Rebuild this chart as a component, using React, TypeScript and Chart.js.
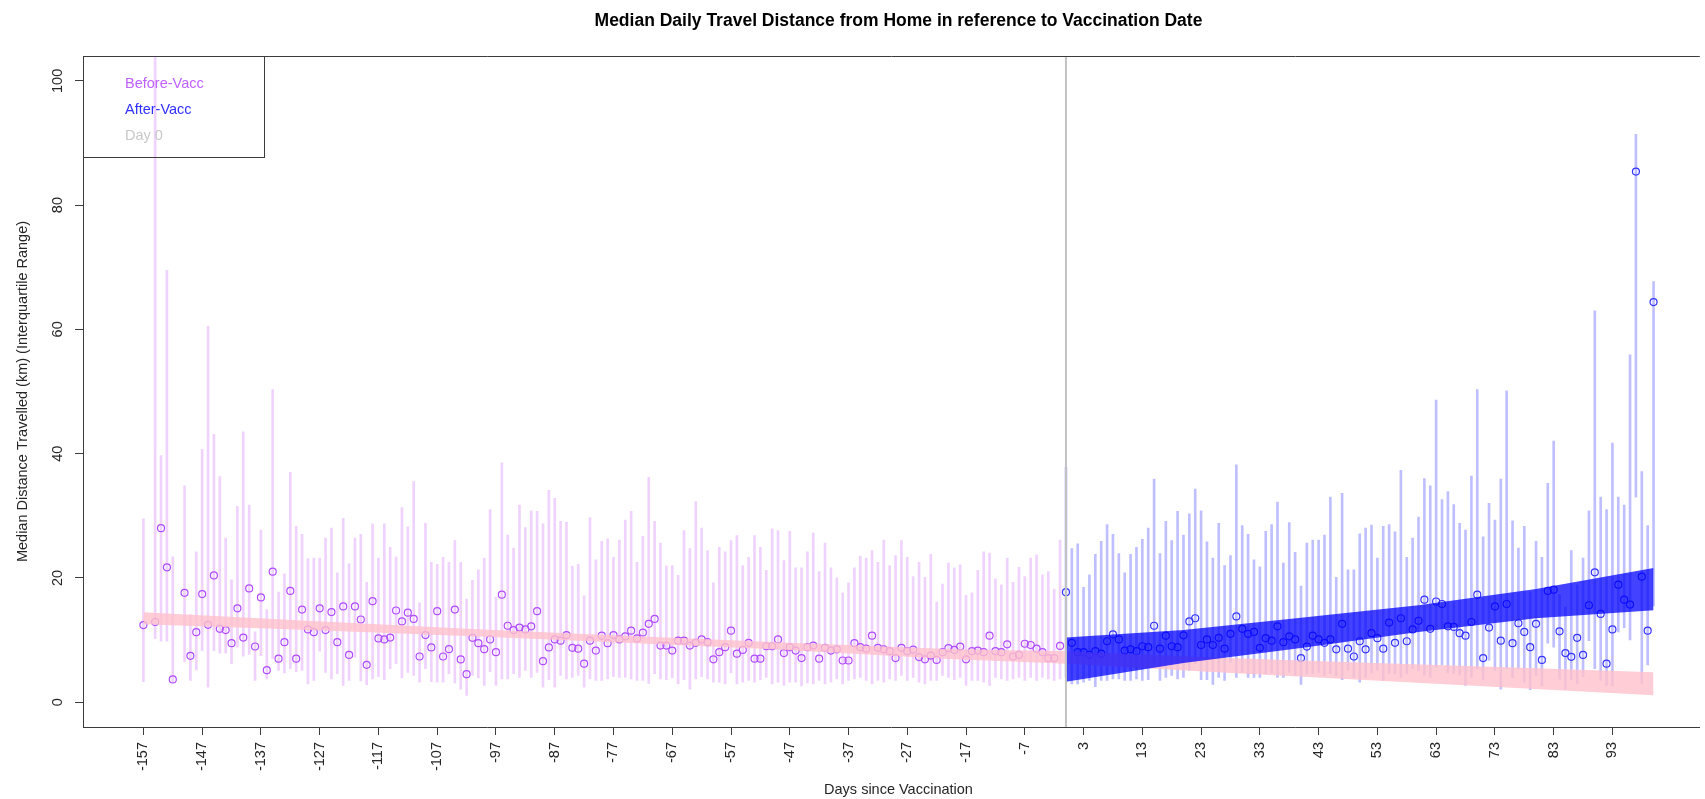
import React, { useEffect, useRef } from 'react';
import { Chart, registerables } from 'chart.js';

Chart.register(...registerables);

// ---------------- DATA ----------------
const beforeDays = [
  -157, -155, -154, -153, -152,
  -150, -149, -148, -147, -146, -145, -144, -143, -142, -141,
  -140, -139, -138, -137, -136, -135, -134, -133, -132, -131,
  -130, -129, -128, -127, -126, -125, -124, -123, -122, -121,
  -120, -119, -118, -117, -116, -115, -114, -113, -112, -111,
  -110, -109, -108, -107, -106, -105, -104, -103, -102, -101,
  -100, -99, -98, -97, -96, -95, -94, -93, -92, -91,
  -90, -89, -88, -87, -86, -85, -84, -83, -82, -81,
  -80, -79, -78, -77, -76, -75, -74, -73, -72, -71,
  -70, -69, -68, -67, -66, -65, -64, -63, -62, -61,
  -60, -59, -58, -57, -56, -55, -54, -53, -52, -51,
  -50, -49, -48, -47, -46, -45, -44, -43, -42, -41,
  -40, -39, -38, -37, -36, -35, -34, -33, -32, -31,
  -30, -29, -28, -27, -26, -25, -24, -23, -22, -21,
  -20, -19, -18, -17, -16, -15, -14, -13, -12, -11,
  -10, -9, -8, -7, -6, -5, -4, -3, -2, -1,
];
const beforeMedian = [
  12.4, 12.9, 28.0, 21.7, 3.65,
  17.6, 7.46, 11.27, 17.4, 12.45, 20.4, 11.8, 11.6, 9.5, 15.1,
  10.4, 18.3, 8.96, 16.85, 5.15, 21.0, 7.0, 9.66, 17.9, 7.0,
  14.9, 11.7, 11.27, 15.1, 11.6, 14.5, 9.66, 15.4, 7.6, 15.4,
  13.3, 6.0, 16.25, 10.25, 10.1, 10.4, 14.75, 13.0, 14.4, 13.4,
  7.35, 10.8, 8.8, 14.65, 7.35, 8.53, 14.9, 6.87, 4.5, 10.35,
  9.5, 8.53, 10.1, 8.05, 17.3, 12.3, 11.6, 12.0, 11.7, 12.2,
  14.65, 6.6, 8.8, 10.1, 9.9, 10.8, 8.75, 8.6, 6.2, 9.9,
  8.3, 10.7, 9.5, 10.8, 10.1, 10.6, 11.5, 10.25, 11.2, 12.6,
  13.4, 9.1, 9.1, 8.3, 9.9, 9.9, 9.1, 9.55, 10.1, 9.65,
  6.9, 8.05, 8.85, 11.5, 7.8, 8.4, 9.55, 7.0, 7.0, 9.0,
  9.0, 10.1, 7.9, 8.85, 8.3, 7.1, 8.85, 9.1, 7.0, 8.75,
  8.3, 8.5, 6.7, 6.7, 9.5, 8.85, 8.6, 10.7, 8.75, 8.5,
  8.2, 7.1, 8.75, 8.2, 8.45, 7.25, 6.9, 7.5, 6.8, 8.05,
  8.7, 8.4, 8.95, 6.9, 8.2, 8.3, 8.05, 10.7, 8.2, 8.05,
  9.3, 7.35, 7.6, 9.4, 9.2, 8.6, 8.05, 7.1, 7.1, 9.05,
];
const beforeQ1 = [
  3.3, 10.2, 9.8, 9.8, 3.3,
  6.5, 3.5, 5.2, 8.3, 2.4, 8.3, 7.9, 7.9, 6.2, 8.85,
  7.4, 7.7, 3.5, 7.5, 3.75, 7.0, 5.1, 4.7, 5.4, 4.9,
  5.1, 2.95, 3.5, 8.2, 4.8, 3.75, 4.6, 2.7, 3.5, 7.2,
  3.4, 2.8, 3.75, 4.1, 3.6, 5.4, 6.2, 3.9, 4.8, 4.3,
  3.2, 5.4, 3.3, 3.2, 3.2, 4.6, 3.1, 2.1, 1.1, 4.3,
  3.9, 2.7, 4.9, 2.7, 3.75, 3.75, 4.6, 4.0, 5.1, 4.0,
  4.8, 2.4, 3.6, 2.4, 4.3, 3.75, 4.0, 4.3, 2.4, 3.75,
  3.5, 3.5, 3.75, 4.1, 4.0, 4.0, 3.75, 3.5, 3.5, 3.0,
  4.6, 3.75, 3.6, 3.9, 2.95, 3.6, 2.1, 3.75, 4.1, 3.75,
  3.2, 3.2, 2.95, 4.7, 2.95, 3.2, 3.5, 3.2, 3.6, 4.0,
  2.95, 3.2, 2.7, 3.2, 3.2, 2.6, 3.1, 2.95, 3.5, 2.95,
  3.2, 3.75, 2.95, 3.5, 3.75, 4.0, 3.5, 2.95, 3.5, 3.2,
  3.75, 3.5, 4.3, 3.5, 4.0, 3.2, 2.95, 3.5, 3.5, 4.3,
  4.0, 3.6, 4.0, 2.7, 3.5, 3.5, 3.2, 2.7, 4.0, 3.75,
  3.5, 3.75, 4.0, 3.5, 4.0, 3.5, 4.0, 3.75, 3.5, 3.75,
];
const beforeQ3 = [
  29.5, 110, 39.7, 69.5, 23.4,
  34.8, 14.1, 24.2, 40.7, 60.5, 43.1, 36.3, 26.4, 19.7, 31.5,
  43.5, 31.7, 11.3, 27.7, 14.9, 50.3, 17.7, 20.65, 37.0, 28.3,
  27.0, 23.1, 23.2, 23.2, 26.4, 28.0, 20.8, 29.6, 22.3, 26.4,
  27.0, 19.3, 28.7, 23.2, 28.7, 24.9, 23.4, 31.3, 28.2, 35.5,
  16.0, 28.8, 22.5, 22.2, 23.3, 22.5, 26.0, 22.5, 16.6, 19.6,
  21.3, 23.2, 31.0, 16.9, 38.5, 26.9, 24.8, 31.7, 28.1, 30.8,
  30.7, 28.7, 34.1, 32.8, 29.1, 29.0, 21.9, 22.2, 17.1, 29.7,
  22.9, 25.9, 26.3, 23.3, 26.1, 29.3, 30.7, 22.5, 26.7, 36.2,
  29.1, 25.6, 21.9, 22.0, 20.4, 27.6, 24.7, 32.3, 28.0, 24.4,
  19.2, 24.9, 24.2, 26.0, 26.8, 22.0, 23.3, 26.8, 24.9, 21.2,
  27.9, 27.6, 22.8, 27.5, 21.6, 21.6, 24.2, 27.2, 21.0, 25.6,
  21.6, 20.0, 17.6, 19.2, 21.6, 23.5, 23.2, 24.4, 22.5, 26.1,
  22.0, 23.6, 26.0, 23.3, 20.2, 22.5, 20.1, 23.8, 16.1, 19.0,
  22.4, 21.6, 22.1, 17.2, 17.6, 21.2, 24.2, 24.0, 19.85, 18.9,
  23.2, 19.3, 21.7, 20.2, 23.2, 23.7, 20.5, 21.0, 18.2, 26.1,
];

const afterDays = [
  0, 1, 2, 3, 4, 5, 6, 7, 8, 9,
  10, 11, 12, 13, 14, 15, 16, 17, 18, 19,
  20, 21, 22, 23, 24, 25, 26, 27, 28, 29,
  30, 31, 32, 33, 34, 35, 36, 37, 38, 39,
  40, 41, 42, 43, 44, 45, 46, 47, 48, 49,
  50, 51, 52, 53, 54, 55, 56, 57, 58, 59,
  60, 61, 62, 63, 64, 65, 66, 67, 68, 69,
  70, 71, 72, 73, 74, 75, 76, 77, 78, 79,
  80, 81, 82, 83, 84, 85, 86, 87, 88, 89,
  90, 91, 92, 93, 94, 95, 96, 97, 98, 99,
  100,
];
const afterMedian = [
  17.7, 9.55, 8.05, 8.05, 7.6, 8.2, 7.8, 9.8, 10.9, 10.1,
  8.3, 8.5, 8.2, 9.0, 8.85, 12.3, 8.6, 10.7, 9.0, 8.85,
  10.75, 13.0, 13.5, 9.2, 10.1, 9.2, 10.35, 8.6, 11.0, 13.8,
  11.8, 11.0, 11.3, 8.75, 10.3, 9.9, 12.2, 9.65, 10.6, 10.1,
  7.1, 8.95, 10.7, 10.1, 9.55, 10.1, 8.5, 12.6, 8.6, 7.35,
  9.8, 8.5, 11.1, 10.3, 8.6, 12.8, 9.55, 13.5, 9.8, 11.7,
  13.1, 16.5, 11.8, 16.2, 15.8, 12.2, 12.1, 11.1, 10.7, 12.9,
  17.3, 7.1, 12.0, 15.4, 9.9, 15.8, 9.5, 12.7, 11.3, 8.85,
  12.6, 6.8, 17.9, 18.1, 11.4, 7.9, 7.3, 10.35, 7.6, 15.6,
  20.9, 14.2, 6.2, 11.7, 18.9, 16.5, 15.7, 85.4, 20.2, 11.5,
  64.4,
];
const afterQ1 = [
  4.0, 2.95, 2.95, 3.2, 3.5, 2.5, 3.5, 3.5, 3.75, 3.75,
  3.5, 3.5, 3.75, 3.5, 3.6, 5.6, 3.5, 4.0, 4.3, 3.75,
  4.0, 5.1, 6.2, 3.6, 3.6, 2.85, 4.0, 3.5, 6.45, 4.0,
  4.8, 4.0, 4.0, 4.0, 4.6, 4.7, 4.0, 4.0, 4.8, 4.3,
  2.85, 4.6, 4.6, 4.8, 4.3, 4.6, 4.3, 3.6, 5.1, 4.0,
  3.2, 4.0, 4.7, 5.1, 3.5, 4.6, 4.6, 4.0, 4.6, 5.4,
  5.1, 4.3, 4.0, 5.6, 6.0, 4.7, 4.6, 4.4, 2.7, 4.0,
  5.4, 3.6, 6.7, 5.1, 2.1, 5.4, 3.9, 5.4, 3.2, 2.0,
  4.3, 2.6, 9.5, 8.85, 3.7, 2.1, 3.6, 2.95, 4.1, 9.9,
  5.4, 3.5, 2.7, 2.6, 11.3, 12.0, 10.0, 33.0, 2.95, 6.0,
  15.5,
];
const afterQ3 = [
  37.8, 24.7, 25.5, 18.5, 20.5, 23.8, 25.9, 28.6, 27.0, 23.9,
  20.8, 23.8, 24.9, 26.2, 28.0, 35.9, 23.9, 29.1, 26.0, 30.7,
  26.9, 30.3, 34.3, 30.8, 25.8, 23.2, 28.8, 22.0, 23.6, 38.2,
  28.4, 27.0, 22.9, 21.8, 27.5, 28.6, 32.2, 22.4, 28.9, 24.1,
  18.7, 25.6, 26.1, 26.1, 26.9, 33.0, 20.1, 33.6, 21.3, 21.3,
  27.1, 28.0, 28.5, 23.2, 28.3, 28.6, 27.4, 37.3, 23.3, 26.4,
  29.8, 36.0, 34.8, 48.6, 32.6, 33.9, 31.8, 28.8, 27.7, 36.4,
  50.3, 26.6, 32.0, 29.3, 35.9, 50.1, 29.2, 24.8, 28.3, 17.7,
  25.9, 23.3, 35.2, 42.0, 17.3, 15.3, 24.4, 18.9, 23.2, 30.8,
  63.0, 33.0, 31.0, 41.7, 33.0, 31.7, 55.9, 91.4, 37.1, 28.4,
  67.7,
];

// Fitted trend bands (at a few vertices)
const pinkBandDays = [-157, -130, -100, -78, -50, -20, 0, 25, 50, 75, 100];
const pinkBandLower = [12.55, 11.65, 10.55, 9.7, 8.5, 6.95, 6.2, 4.85, 3.6, 2.35, 1.1];
const pinkBandUpper = [14.45, 13.15, 11.75, 10.8, 9.7, 8.55, 8.2, 7.2, 6.4, 5.6, 4.8];

const blueBandDays = [0, 20, 40, 60, 80, 100];
const blueBandLower = [3.3, 6.3, 8.7, 11.3, 13.5, 14.8];
const blueBandUpper = [10.4, 11.6, 13.6, 15.6, 18.2, 21.6];

const dayZero = 0;

const xTickValues = [
  -157, -147, -137, -127, -117, -107, -97, -87, -77, -67, -57, -47, -37, -27, -17, -7,
  3, 13, 23, 33, 43, 53, 63, 73, 83, 93,
];
const yTickValues = [0, 20, 40, 60, 80, 100];

const titleText = 'Median Daily Travel Distance from Home in reference to Vaccination Date';
const xTitle = 'Days since Vaccination';
const yTitle = 'Median Distance Travelled (km) (Interquartile Range)';
const legendLabels = ['Before-Vacc', 'After-Vacc', 'Day 0'];

// ---------------- STYLE ----------------
const FONT = '"Liberation Sans", Arial, Helvetica, sans-serif';
const TEXT = '#262626';
const FRAME = '#3c3c3c';
const BEFORE_PT = '#B04CFF';
const BEFORE_BAR = 'rgba(191,62,255,0.23)';
const AFTER_PT = '#3434FF';
const AFTER_BAR = 'rgba(0,0,255,0.25)';
const PINK = 'rgba(255,192,203,0.8)';
const BLUE = 'rgba(0,0,255,0.74)';
const GREY = '#C2C2C2';
const LEGEND_COLORS = ['#C060FF', '#3030FF', '#C8C8C8'];

const X_MIN = -167.28;
const X_MAX = 107.87;
const Y_MIN = -4;
const Y_MAX = 104;
const PLOT_CENTER_DAY = -28.5;

const decorPlugin = {
  id: 'decor',
  afterDraw(chart: any) {
    const { ctx, chartArea, scales } = chart;
    const xs = scales.x;
    const ys = scales.y;
    ctx.save();
    // top frame line
    ctx.strokeStyle = FRAME;
    ctx.lineWidth = 1;
    ctx.beginPath();
    ctx.moveTo(chartArea.left, Math.round(chartArea.top) + 0.5);
    ctx.lineTo(chartArea.right, Math.round(chartArea.top) + 0.5);
    ctx.stroke();

    // y tick labels (rotated like R)
    ctx.fillStyle = TEXT;
    ctx.font = `14.5px ${FONT}`;
    ctx.textAlign = 'center';
    ctx.textBaseline = 'alphabetic';
    yTickValues.forEach((v) => {
      const y = ys.getPixelForValue(v);
      ctx.save();
      ctx.translate(62, y);
      ctx.rotate(-Math.PI / 2);
      ctx.fillText(String(v), 0, 0);
      ctx.restore();
    });

    const cx = xs.getPixelForValue(PLOT_CENTER_DAY);
    // title
    ctx.fillStyle = '#000';
    ctx.font = `bold 17.5px ${FONT}`;
    ctx.textAlign = 'center';
    ctx.fillText(titleText, cx, 25.5);

    // x title
    ctx.fillStyle = TEXT;
    ctx.font = `14.5px ${FONT}`;
    ctx.fillText(xTitle, cx, 794);

    // y title
    const cy = (chartArea.top + chartArea.bottom) / 2;
    ctx.save();
    ctx.translate(27, cy);
    ctx.rotate(-Math.PI / 2);
    ctx.fillText(yTitle, 0, 0);
    ctx.restore();

    // legend box
    ctx.strokeStyle = FRAME;
    ctx.lineWidth = 1;
    const lx0 = Math.round(chartArea.left) + 0.5;
    const ly0 = Math.round(chartArea.top) + 0.5;
    ctx.strokeRect(lx0, ly0, 264.5 - lx0, 157.5 - ly0);
    ctx.textAlign = 'left';
    ctx.font = `14.5px ${FONT}`;
    const baselines = [88.3, 114.1, 139.9];
    legendLabels.forEach((t, i) => {
      ctx.fillStyle = LEGEND_COLORS[i];
      ctx.fillText(t, 125, baselines[i]);
    });
    ctx.restore();
  },
};

export default function App() {
  const ref = useRef<HTMLCanvasElement | null>(null);

  useEffect(() => {
    if (!ref.current) return;
    Chart.defaults.font.family = FONT;

    const beforeBars = beforeDays.map((d, i) => ({ x: d, y: [beforeQ1[i], beforeQ3[i]] }));
    const afterBars = afterDays.map((d, i) => ({ x: d, y: [afterQ1[i], afterQ3[i]] }));
    const beforePts = beforeDays.map((d, i) => ({ x: d, y: beforeMedian[i] }));
    const afterPts = afterDays.map((d, i) => ({ x: d, y: afterMedian[i] }));
    const pinkLo = pinkBandDays.map((d, i) => ({ x: d, y: pinkBandLower[i] }));
    const pinkHi = pinkBandDays.map((d, i) => ({ x: d, y: pinkBandUpper[i] }));
    const blueLo = blueBandDays.map((d, i) => ({ x: d, y: blueBandLower[i] }));
    const blueHi = blueBandDays.map((d, i) => ({ x: d, y: blueBandUpper[i] }));

    const tickCommon = {
      display: true,
      drawOnChartArea: false,
      drawTicks: true,
      tickLength: 8,
      color: FRAME,
      lineWidth: 1,
      offset: false,
    };

    const chart = new Chart(ref.current, {
      type: 'scatter',
      data: {
        datasets: [
          {
            type: 'bar',
            label: 'before IQR',
            data: beforeBars as any,
            backgroundColor: BEFORE_BAR,
            barThickness: 2,
            grouped: false,
            order: 7,
          } as any,
          {
            type: 'bar',
            label: 'after IQR',
            data: afterBars as any,
            backgroundColor: AFTER_BAR,
            barThickness: 2,
            grouped: false,
            order: 7,
          } as any,
          {
            type: 'scatter',
            label: 'before median',
            data: beforePts,
            pointStyle: 'circle',
            pointRadius: 3.5,
            pointBorderWidth: 1.2,
            pointBorderColor: BEFORE_PT,
            pointBackgroundColor: 'rgba(0,0,0,0)',
            showLine: false,
            order: 6,
          } as any,
          {
            type: 'scatter',
            label: 'after median',
            data: afterPts,
            pointStyle: 'circle',
            pointRadius: 3.5,
            pointBorderWidth: 1.2,
            pointBorderColor: AFTER_PT,
            pointBackgroundColor: 'rgba(0,0,0,0)',
            showLine: false,
            order: 6,
          } as any,
          {
            type: 'line',
            label: 'pink lo',
            data: pinkLo,
            borderColor: 'rgba(0,0,0,0)',
            borderWidth: 1,
            pointRadius: 0,
            fill: false,
            tension: 0,
            order: 4,
          } as any,
          {
            type: 'line',
            label: 'pink hi',
            data: pinkHi,
            borderColor: 'rgba(0,0,0,0)',
            borderWidth: 1,
            backgroundColor: PINK,
            pointRadius: 0,
            fill: '-1',
            tension: 0,
            order: 4,
          } as any,
          {
            type: 'line',
            label: 'blue lo',
            data: blueLo,
            borderColor: 'rgba(0,0,0,0)',
            borderWidth: 1,
            pointRadius: 0,
            fill: false,
            tension: 0,
            order: 3,
          } as any,
          {
            type: 'line',
            label: 'blue hi',
            data: blueHi,
            borderColor: 'rgba(0,0,0,0)',
            borderWidth: 1,
            backgroundColor: BLUE,
            pointRadius: 0,
            fill: '-1',
            tension: 0,
            order: 3,
          } as any,
          {
            type: 'line',
            label: 'day 0',
            data: [
              { x: dayZero, y: Y_MIN },
              { x: dayZero, y: Y_MAX },
            ],
            borderColor: GREY,
            borderWidth: 2,
            pointRadius: 0,
            fill: false,
            order: 1,
          } as any,
        ],
      },
      options: {
        responsive: false,
        animation: false,
        devicePixelRatio: 1,
        events: [],
        layout: { padding: { top: 56, left: 0, right: 0, bottom: 0 } },
        plugins: {
          legend: { display: false },
          title: { display: false },
          tooltip: { enabled: false },
        },
        scales: {
          x: {
            type: 'linear',
            min: X_MIN,
            max: X_MAX,
            offset: false,
            afterBuildTicks: (s: any) => {
              s.ticks = xTickValues.map((v) => ({ value: v }));
            },
            afterFit: (s: any) => {
              s.height = 72;
            },
            ticks: {
              autoSkip: false,
              minRotation: 90,
              maxRotation: 90,
              padding: 7,
              color: TEXT,
              font: { size: 14.5, family: FONT },
              callback: (v: any) => String(v),
            },
            grid: tickCommon,
            border: { display: true, color: FRAME, width: 1 },
          },
          y: {
            type: 'linear',
            min: Y_MIN,
            max: Y_MAX,
            afterBuildTicks: (s: any) => {
              s.ticks = yTickValues.map((v) => ({ value: v }));
            },
            afterFit: (s: any) => {
              s.width = 83;
            },
            ticks: { display: false },
            grid: tickCommon,
            border: { display: true, color: FRAME, width: 1 },
          },
        },
      } as any,
      plugins: [decorPlugin],
    });
    return () => chart.destroy();
  }, []);

  return (
    <div style={{ position: 'fixed', left: 0, top: 0, width: 1705, height: 799, background: '#fff' }}>
      <canvas ref={ref} width={1705} height={799} style={{ display: 'block' }} />
    </div>
  );
}
